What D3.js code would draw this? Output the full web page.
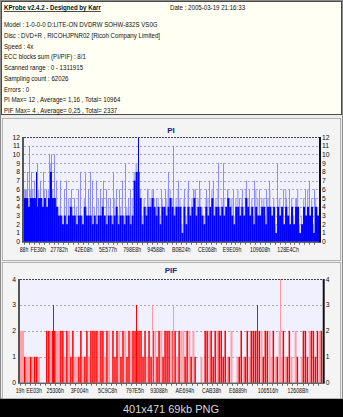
<!DOCTYPE html>
<html>
<head>
<meta charset="utf-8">
<script src="https://cdn.jsdelivr.net/npm/d3@7"></script>
<style>
  html, body { margin: 0; padding: 0; background: #000; }
  svg { display: block; }
</style>
</head>
<body>
<script>
// ---- report header ----
const titleText = "KProbe v2.4.2 - Designed by Karr";
const dateText = "Date : 2005-03-19 21:16:33";
const infoLines = [
  "Model : 1-0-0-0 D:LITE-ON DVDRW SOHW-832S  VS0G",
  "Disc : DVD+R , RICOHJPNR02 [Ricoh Company Limited]",
  "Speed : 4x",
  "ECC blocks sum (PI/PIF) : 8/1",
  "Scanned range : 0 - 1311915",
  "Sampling count : 62026",
  "Errors : 0",
  "PI Max= 12 , Average= 1,16 , Total= 10964",
  "PIF Max= 4 , Average= 0,25 , Total= 2337"
];
const caption = "401x471 69kb PNG";

// ---- axes ----
const scanEnd = 1311915;
const piTickLabels = ["88h","FE36h","27782h","42E08h","5E577h","798E8h","94588h","B0B24h","CE068h","E9E09h","109608h","128E4Ch"];
const pifTickLabels = ["19h","EE03h","25306h","3F004h","5C9C8h","797E5h","93088h","AE694h","CAB38h","E6889h","106516h","12608Bh"];
const piYTicks = [0,1,2,3,4,5,6,7,8,9,10,11,12];
const pifYTicks = [0,1,2,3,4];

// ---- PI: per column, solid level and the faint band just above it ----
const piSolid = [
  5,5,4,5,5,5,4,5,5,4,5,4,5, 8, 5,5,4,
  3,3,2,3,2,3,4,3,3,2,3,3,2,4,3,3,3,2,3,2,3,3,4,3,2,3,3,2,3,4,2,3,3,2,3,3,2,3,
  7,8,8,5,2,
  4,3,4,4,5,4,3,4,2,4,4,3,4,5,4,3,4,4,4,1,4,2,4,3,4,5,3,4,4,3,2,4,3,4,5,3,4,4,3,4,
  3,4,5,4,3,2,4,4,3,4,3,5,4,3,4,2,4,3,3,4,4,2,4,4,3,4,1,4,3,4,2,4,3,2,4,2,4,4,1,2,4,3,4,3,4,1,4,3
];
const piBand = [
  6,6,5,6,6,6,5,6,6,5,6,5,6, 9, 6,6,5,
  4,5,3,4,4,5,5,4,3,4,5,4,3,5,4,3,5,4,4,3,5,4,5,3,4,5,4,3,5,5,3,4,5,3,4,4,4,5,
  8,9,9,6,3,
  5,4,6,5,6,5,4,5,3,5,4,5,6,6,5,4,5,6,5,2,5,3,6,4,5,6,4,5,6,4,3,5,5,4,6,4,5,6,4,5,
  5,4,6,5,5,3,5,6,4,5,4,6,5,4,5,3,6,5,4,5,5,3,5,6,4,5,2,5,5,4,3,6,4,3,5,3,5,6,2,3,5,4,6,4,5,2,5,4
];
// isolated peaks: [column, value]
const piSpikes = [
  [0.5,6],[1.3,8],[2.7,11],[3.3,8],[5,7],[6.3,9],[8,7],[9.5,8],[11,6],[12.7,10],[13.3,10],[15,10],[16,7],
  [18.3,7],[20,6],[21.3,7],[23.8,6],[25,5],[27,6],[28,8],[30.5,8],[32,6],[33,8],[34,7],[36.3,7],[38,6],
  [39.5,7],[41.3,6],[43,5],[44.7,8],[46,6],[47.7,6],[49,7],[50.5,9],[52,5],[53,6],
  [61.5,6],[64.7,6],[66,5],[68.8,6],[70.5,6],[72.2,8],[74.7,11],[75,9],[77.2,7],[80.5,6],[82.5,7],[84.7,6],
  [86,6],[88,7],[91.3,6],[93,7],[94.7,7],[97.2,9],[100,9],[102,6],[104.7,6],[108,5],[109.5,6],[111.3,7],
  [113,6],[115.5,7],[118,6],[121.3,6],[123,7],[126.7,9],[129.7,6],[131.5,5],[133,6],[136.3,5],[141,6],
  [143,7],[145.5,6]
];
const piDarkSpikes = [[6,8],[57.2,12]];

// ---- PIF: per column level, intensity (1 = strong red, 0 = faint), plus isolated peaks ----
const pifLevel = [
  2,2, 1,1,1,1,1,1,1,1, 0,0,0, 2,2,2,2,2, 2,2,2, 2,1,2,2,1,2,1,
  1,1,2,1,1,2,1,2, 2,2,2,2,2, 2,1,2,2,0,2,1,2,2,1,2,2,1,2,2, 2,2,2,2,2,
  1,2,1,2,1, 2,2,1,2,2,1,2, 2,2,2,2,2,1,2,2, 2,1,2,2,1,2,1, 0,0,1,0,
  2,2,2,2,1,2,2,2,2,1,2, 1,1,2,0,0,1,1,2,1,1,2,1, 2,2,2,2,2,2,1,2,2,2,
  1,2,1,1,2,1,2,1,1,2, 1,0,2,1,0,1, 2,2,1,2,2,2,1,2,2,2
];
const pifStrong = [
  0,0, 1,0,0,1,0,1,1,0, 0,0,0, 1,1,0,1,1, 0,0,1, 1,0,1,0,1,1,0,
  0,1,1,0,1,1,0,1, 1,1,1,0,1, 1,0,1,0,0,1,1,1,0,1,1,0,1,1,0, 1,1,1,1,1,
  1,1,0,1,1, 1,0,1,1,0,1,1, 1,1,0,1,1,0,1,0, 0,1,1,0,1,0,1, 0,0,0,0,
  1,1,0,1,1,1,0,1,1,1,1, 0,1,0,0,0,0,1,1,0,1,1,0, 1,1,1,1,1,0,1,1,1,0,
  0,1,0,1,0,0,1,0,1,1, 0,0,0,1,0,0, 1,1,1,0,1,1,1,1,0,1
];
const pifSpikes = [[16.7,3,1],[58,3,1],[65.9,3,0],[76.4,3,0],[118,3,1],[129.7,4,0]];

const W = 343, H = 417;
const svg = d3.select("body").append("svg").attr("width", W).attr("height", H);

// small condensed text helper (the screenshot font is narrower than Arial)
function label(g, x, y, text, opt = {}) {
  const t = g.append("text")
    .attr("transform", `translate(${x},${y}) scale(${opt.k || 0.82},1)`)
    .attr("font-family", "Liberation Sans, Arial, sans-serif")
    .attr("font-size", opt.size || 7.5)
    .attr("fill", opt.fill || "#111")
    .attr("text-anchor", opt.anchor || "start")
    .text(text);
  if (opt.bold) t.attr("font-weight", "bold");
  if (opt.underline) t.attr("text-decoration", "underline");
  return t;
}

// window background and bottom caption strip
svg.append("rect").attr("width", W).attr("height", H).attr("fill", "#000");
svg.append("rect").attr("x", 0).attr("y", 0).attr("width", W).attr("height", 399)
  .attr("fill", "#ececec");
svg.append("rect").attr("x", 0.5).attr("y", 0.5).attr("width", W - 1).attr("height", 398)
  .attr("fill", "none").attr("stroke", "#8a8a8a");
svg.append("text").attr("x", 171).attr("y", 413).attr("text-anchor", "middle")
  .attr("font-family", "Liberation Sans, Arial, sans-serif").attr("font-size", 11)
  .attr("fill", "#d8d8d8").text(caption);

// header box
const header = svg.append("g");
header.append("rect").attr("x", 1.5).attr("y", 1.5).attr("width", 340).attr("height", 113)
  .attr("fill", "#fffff3").attr("stroke", "#4a4a4a");
label(header, 4, 10, titleText, { bold: true, underline: true });
label(header, 170, 10, dateText);
infoLines.forEach((s, i) => label(header, 4, 27 + i * 10.75, s));

function drawPanel(cfg) {
  const g = svg.append("g");
  g.append("rect").attr("x", 2.5).attr("y", cfg.panelTop + 0.5).attr("width", 338)
    .attr("height", cfg.panelH).attr("fill", "#f4f4f4").attr("stroke", "#b4b4b4");
  g.append("text").attr("x", 171).attr("y", cfg.titleY).attr("text-anchor", "middle")
    .attr("font-family", "Liberation Sans, Arial, sans-serif").attr("font-size", 8)
    .attr("font-weight", "bold").attr("fill", "#1a1a80").text(cfg.title);

  const x0 = cfg.left, x1 = cfg.right;
  const y = d3.scaleLinear().domain([0, cfg.yMax]).range([cfg.bottom, cfg.top]);
  const xCol = d3.scaleLinear().domain([0, cfg.columns]).range([x0, x1]);
  const xLba = d3.scaleLinear().domain([0, scanEnd]).range([x0, cfg.tickRight]);

  g.append("rect").attr("x", x0).attr("y", cfg.top).attr("width", x1 - x0)
    .attr("height", cfg.bottom - cfg.top).attr("fill", "#f0f0fe");

  // dotted grid
  g.append("g").selectAll("line").data(cfg.yTicks.filter(v => v > 0 && v < cfg.yMax)).join("line")
    .attr("x1", x0).attr("x2", x1).attr("y1", d => Math.round(y(d)) + 0.5).attr("y2", d => Math.round(y(d)) + 0.5)
    .attr("stroke", "#a8a8a8").attr("stroke-dasharray", "2,2");

  cfg.drawBars(g, xCol, y);

  // frame: dashed top, solid bottom, heavy left/right
  g.append("line").attr("x1", x0).attr("x2", x1).attr("y1", cfg.top + 0.5).attr("y2", cfg.top + 0.5)
    .attr("stroke", "#444").attr("stroke-dasharray", "2,1");
  g.append("line").attr("x1", x0).attr("x2", x1).attr("y1", cfg.bottom + 0.5).attr("y2", cfg.bottom + 0.5)
    .attr("stroke", "#222");
  g.append("line").attr("x1", x0 - 1).attr("x2", x0 - 1).attr("y1", cfg.top).attr("y2", cfg.bottom + 1)
    .attr("stroke", "#555").attr("stroke-width", 2);
  g.append("line").attr("x1", x1 + 1).attr("x2", x1 + 1).attr("y1", cfg.top).attr("y2", cfg.bottom + 1)
    .attr("stroke", "#111").attr("stroke-width", 2);

  // minor ticks under the bottom axis
  g.append("g").selectAll("line").data(d3.range(0, cfg.columns, cfg.columns / 60)).join("line")
    .attr("x1", d => Math.round(xCol(d)) + 0.5).attr("x2", d => Math.round(xCol(d)) + 0.5)
    .attr("y1", cfg.bottom + 1).attr("y2", cfg.bottom + 3).attr("stroke", "#666");

  // y tick labels on both sides
  cfg.yTicks.forEach(v => {
    label(g, x0 - 4, y(v) + 2.5, String(v), { anchor: "end", k: 0.9, size: 7.5 });
    label(g, x1 + 3, y(v) + 2.5, String(v), { anchor: "start", k: 0.9, size: 7.5 });
  });
  // x tick labels at their LBA positions
  cfg.xLabels.forEach(s => {
    label(g, xLba(parseInt(s, 16)), cfg.bottom + 10, s, { anchor: "middle", k: 0.8, size: 6.5 });
  });
}

function bars(g, data, x, y, w, color) {
  g.append("g").selectAll("rect").data(data).join("rect")
    .attr("x", (d, i) => x(i)).attr("width", w)
    .attr("y", d => y(d)).attr("height", d => y(0) - y(d))
    .attr("fill", color);
}
function spikes(g, data, x, y, color) {
  g.append("g").selectAll("rect").data(data).join("rect")
    .attr("x", d => Math.round(x(d[0]))).attr("width", 1)
    .attr("y", d => y(d[1])).attr("height", d => y(0) - y(d[1]))
    .attr("fill", typeof color === "function" ? color : () => color);
}

drawPanel({
  title: "PI", panelTop: 118, panelH: 142, titleY: 133,
  left: 24, right: 319, tickRight: 309, top: 137, bottom: 241.7, yMax: 12, yTicks: piYTicks,
  columns: piSolid.length, xLabels: piTickLabels,
  drawBars(g, x, y) {
    const w = x(1) - x(0);
    bars(g, piBand, x, y, w * 0.6, "#a0a0ff");
    spikes(g, piSpikes, x, y, "#8c8cff");
    bars(g, piSolid, x, y, w, "#0000ff");
    spikes(g, piDarkSpikes, x, y, "#0000ff");
  }
});

drawPanel({
  title: "PIF", panelTop: 262, panelH: 136, titleY: 273,
  left: 20, right: 322.7, tickRight: 322.7, top: 279, bottom: 382.7, yMax: 4, yTicks: pifYTicks,
  columns: pifLevel.length, xLabels: pifTickLabels,
  drawBars(g, x, y) {
    const w = x(1) - x(0);
    g.append("g").selectAll("rect").data(pifLevel).join("rect")
      .attr("x", (d, i) => x(i)).attr("width", (d, i) => pifStrong[i] ? w * 0.75 : w)
      .attr("y", d => y(d)).attr("height", d => y(0) - y(d))
      .attr("fill", (d, i) => pifStrong[i] ? "#ff0000" : "#ffa0a8");
    spikes(g, pifSpikes, x, y, d => d[2] ? "#ff0000" : "#ff9aa4");
  }
});
</script>
</body>
</html>
